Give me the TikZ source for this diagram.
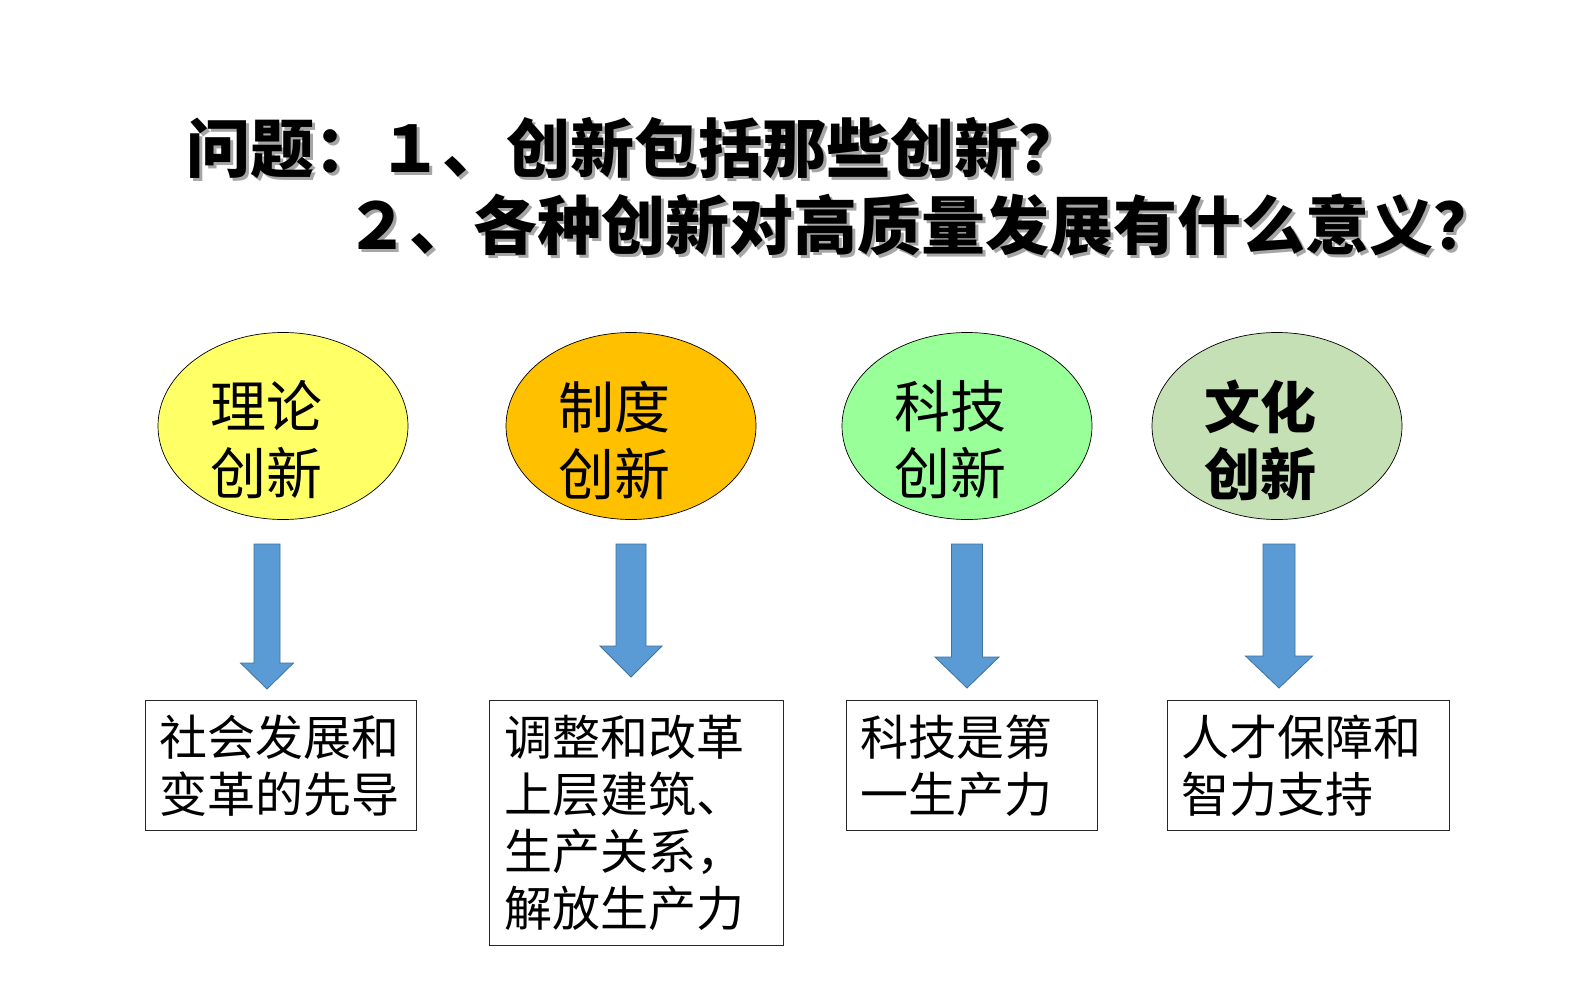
\documentclass[tikz,border=0pt]{standalone}
\usepackage{fontspec}
\usepackage{xcolor}
\usepackage{tikz}
\usetikzlibrary{calc}
\usetikzlibrary{shapes.geometric}

\newfontfamily\cjk{Noto Sans CJK SC}

\definecolor{lilun}{HTML}{FFFF66}
\definecolor{zhidu}{HTML}{FFC000}
\definecolor{keji}{HTML}{99FF99}
\definecolor{wenhua}{HTML}{C5E0B4}
\definecolor{arrowblue}{HTML}{5B9BD5}
\definecolor{arrowedge}{HTML}{41719C}

% block arrow: start, tip, half shaft, half head, head length
\newcommand{\flowarrow}[5]{%
  \filldraw[fill=arrowblue,draw=arrowedge,line width=0.8pt,line join=miter]
    ($(#1)+(-#3,0)$) -- ($(#1)+(#3,0)$) -- ($(#2)+(#3,-#5)$) -- ($(#2)+(#4,-#5)$)
    -- (#2) -- ($(#2)+(-#4,-#5)$) -- ($(#2)+(-#3,-#5)$) -- cycle;}

\tikzset{
  question/.style={anchor=west,inner sep=0pt,font=\cjk\bfseries\fontsize{64}{76}\selectfont},
  bubble/.style={ellipse,draw,line width=0.7pt,minimum width=250,minimum height=187,inner sep=0pt},
  bubtext/.style={align=center,inner sep=0pt,font=\cjk\fontsize{56}{67}\selectfont},
  outbox/.style={draw=black!85,line width=0.9pt,anchor=north west,align=left,
    inner xsep=14pt,inner ysep=0pt,font=\cjk\fontsize{48}{57}\selectfont}
}

\begin{document}
\begin{tikzpicture}[x=1pt,y=-1pt]
\fill[white] (0,0) rectangle (1587,992);
\useasboundingbox (0,0) rectangle (1587,992);

% Questions with drop shadow
\node[question,black!35] (q1s) at (189,151) {问题：１、创新包括那些创新？};
\node[question] (q1) at (186,148) {问题：１、创新包括那些创新？};
\node[question,black!35] (q2s) at (348,228) {２、各种创新对高质量发展有什么意义？};
\node[question] (q2) at (345,225) {２、各种创新对高质量发展有什么意义？};

% Four kinds of innovation
\node[bubble,fill=lilun] (e1) at (283,426) {};
\node[bubble,fill=zhidu] (e2) at (631,426) {};
\node[bubble,fill=keji] (e3) at (967,426) {};
\node[bubble,fill=wenhua] (e4) at (1277,426) {};
\node[bubtext] (t1) at ($(e1.center)+(-17,14)$) {理论\\创新};
\node[bubtext] (t2) at ($(e2.center)+(-17,14)$) {制度\\创新};
\node[bubtext] (t3) at ($(e3.center)+(-17,14)$) {科技\\创新};
\node[bubtext,font=\cjk\bfseries\fontsize{56}{67}\selectfont] (t4) at ($(e4.center)+(-17,14)$) {文化\\创新};

% What each one means
\node[outbox,text width=243pt,minimum height=130] (b1) at (145,700) {社会发展和\\变革的先导};
\node[outbox,text width=264pt,minimum height=245,inner xsep=15pt] (b2) at (489,700) {调整和改革\\上层建筑、\\生产关系，\\解放生产力};
\node[outbox,text width=223pt,minimum height=130] (b3) at (846,700) {科技是第\\一生产力};
\node[outbox,text width=254pt,minimum height=130] (b4) at (1167,700) {人才保障和\\智力支持};

% Arrows between them
\coordinate (a1s) at (267,544); \coordinate (a1e) at (267,689);
\coordinate (a2s) at (631,544); \coordinate (a2e) at (631,677);
\coordinate (a3s) at (967,544); \coordinate (a3e) at (967,688);
\coordinate (a4s) at (1279,544); \coordinate (a4e) at (1279,688);
\flowarrow{a1s}{a1e}{13}{26.5}{26}
\flowarrow{a2s}{a2e}{15}{31}{31}
\flowarrow{a3s}{a3e}{15.5}{32}{31}
\flowarrow{a4s}{a4e}{16}{33.5}{32}
\end{tikzpicture}
\end{document}
